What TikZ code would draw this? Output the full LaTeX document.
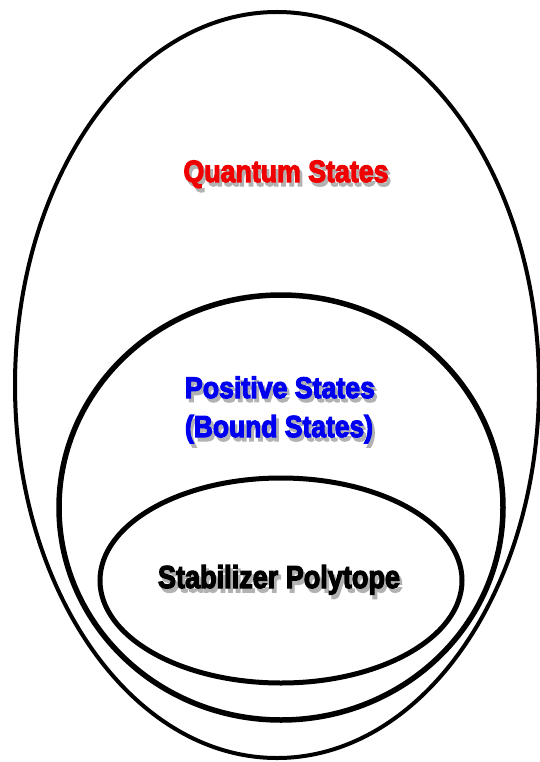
\documentclass[tikz,border=0pt]{standalone}
\usepackage{fontspec}
\setmainfont{Liberation Sans}
\newfontfamily\impfont[FakeBold=4]{Liberation Sans Bold}
\usetikzlibrary{shapes.geometric}
\tikzset{
  ring/.style={draw=black, shape=ellipse, inner sep=0pt, fill=none},
  lbl/.style={anchor=base, inner sep=0pt, font=\impfont},
}
\newcommand{\fitbox}[3]{\resizebox{#1}{#2}{#3}}
\newcommand{\shtext}[2]{\leavevmode\rlap{\kern1pt\raisebox{-1.3pt}{\textcolor{black!30}{#2}}}\textcolor{#1}{#2}}
\definecolor{qred}{RGB}{240,0,0}
\definecolor{pblue}{RGB}{0,0,240}
\begin{document}
\begin{tikzpicture}[x=1pt,y=-1pt]
\useasboundingbox[fill=white] (0,0) rectangle (540,762);
% ellipses
\node[ring, line width=4pt, minimum width=524pt, minimum height=746pt] (outer) at (277,385) {};
\node[ring, line width=5.5pt, minimum width=444pt, minimum height=425pt] (middle) at (281,507.5) {};
\node[ring, line width=5pt, minimum width=362pt, minimum height=205pt] (inner) at (281,580.5) {};
% labels
\node[lbl] (qs) at (286,182) {\fitbox{205pt}{21.5pt}{\shtext{qred}{Quantum States}}};
\node[lbl] (ps) at (280,398) {\fitbox{190pt}{21.5pt}{\shtext{pblue}{Positive States}}};
\node[lbl] (bs) at (279,437) {\fitbox{188pt}{22pt}{\shtext{pblue}{(Bound States)}}};
\node[lbl] (sp) at (279,588) {\fitbox{242pt}{23pt}{\shtext{black}{Stabilizer Polytope}}};
\end{tikzpicture}
\end{document}
